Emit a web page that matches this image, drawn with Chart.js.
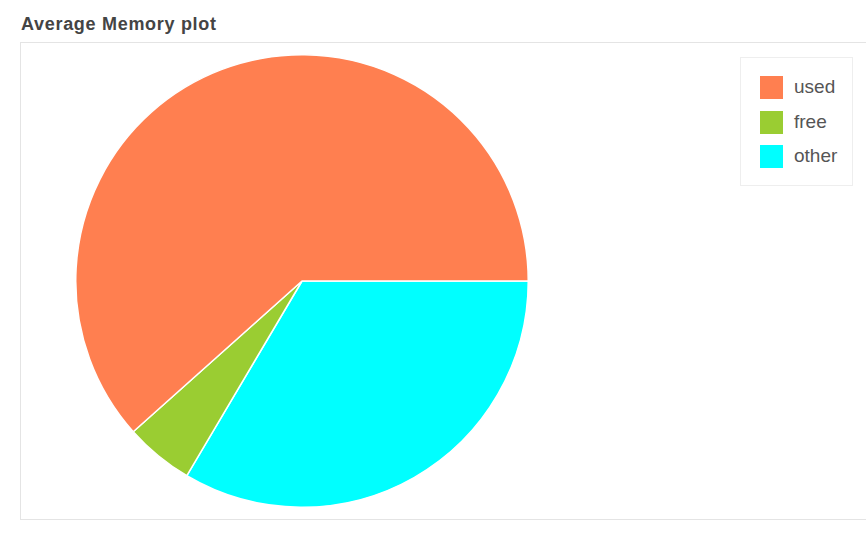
<!DOCTYPE html>
<html>
<head>
<meta charset="utf-8">
<script src="https://cdn.jsdelivr.net/npm/chart.js@4"></script>
<style>
  html, body { margin: 0; padding: 0; background: #fff; width: 866px; height: 535px; overflow: hidden; }
  #title { position: absolute; left: 21px; top: 14px; font: bold 18px "Liberation Sans", Arial, sans-serif; letter-spacing: 0.7px; color: #444; white-space: nowrap; }
  #box { position: absolute; left: 20px; top: 42px; width: 860px; height: 476px; border: 1.5px solid #e4e4e4; box-sizing: content-box; }
  #wrap { position: absolute; left: 75px; top: 54px; width: 454px; height: 454px; }
  #legend { position: absolute; left: 740px; top: 57px; width: 111px; height: 127px; border: 1px solid #eeeeee; }
  .item { position: absolute; left: 19px; height: 23px; white-space: nowrap; }
  .sw { position: absolute; left: 0; top: 0; width: 23px; height: 23px; }
  .lb { position: absolute; left: 34px; top: -1px; font: 19px "Liberation Sans", Arial, sans-serif; color: #555; line-height: 23px; }
</style>
</head>
<body>
<div id="title">Average Memory plot</div>
<div id="box"></div>
<div id="wrap"><canvas id="c" width="454" height="454"></canvas></div>
<div id="legend"></div>
<script>
const categories = ['used', 'free', 'other'];
const values = [61.6, 4.9, 33.5];
const colors = ['#FF7F50', '#9ACD32', '#00FFFF'];

// legend (HTML)
const legend = document.getElementById('legend');
categories.forEach((name, i) => {
  const it = document.createElement('div');
  it.className = 'item';
  it.style.top = (18 + i * 34.5) + 'px';
  const sw = document.createElement('div');
  sw.className = 'sw';
  sw.style.background = colors[i];
  const lb = document.createElement('div');
  lb.className = 'lb';
  lb.textContent = name;
  it.appendChild(sw);
  it.appendChild(lb);
  legend.appendChild(it);
});

// slices drawn counter-clockwise from 3 o'clock: reverse order for Chart.js (clockwise)
const order = categories.map((_, i) => i).reverse();
new Chart(document.getElementById('c'), {
  type: 'pie',
  data: {
    labels: order.map(i => categories[i]),
    datasets: [{
      data: order.map(i => values[i]),
      backgroundColor: order.map(i => colors[i]),
      borderColor: '#ffffff',
      borderWidth: 1.5
    }]
  },
  options: {
    responsive: false,
    animation: false,
    rotation: 90,
    layout: { padding: 0 },
    plugins: {
      legend: { display: false },
      tooltip: { enabled: false },
      title: { display: false }
    }
  }
});
</script>
</body>
</html>
